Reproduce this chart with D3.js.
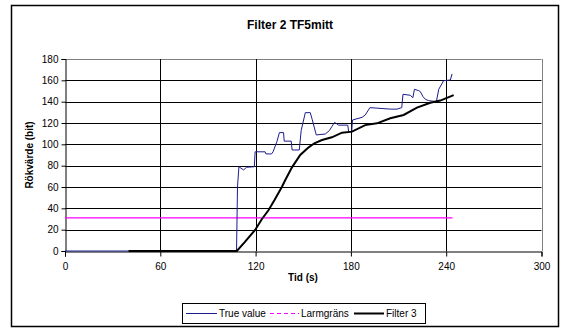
<!DOCTYPE html>
<html><head><meta charset="utf-8">
<script src="https://cdn.jsdelivr.net/npm/d3@7"></script>
<style>body{margin:0;background:#fff}svg{display:block;font-family:"Liberation Sans",Arial,sans-serif}</style>
</head><body><div id="chart"></div>
<script>
const title = "Filter 2 TF5mitt";
const xLabel = "Tid (s)";
const yLabel = "Rökvärde (bit)";
const xTicks = [0, 60, 120, 180, 240, 300];
const yTicks = [0, 20, 40, 60, 80, 100, 120, 140, 160, 180];
const seriesNames = ["True value", "Larmgräns", "Filter 3"];
const seriesColors = ["#1c1c8c", "#ff00ff", "#000000"];

// True value (time s, value)
const trueTime  = [0,108,108.6,109.5,112.4,114.3,119.2,119.7,126,126.5,130,131,133.4,135,137.6,138,142.4,143,147.5,148.7,151.3,154.4,155.6,158.2,163.9,166.4,168,169.7,172.3,178,178.6,180.5,181,187,189,192,205,209,212,212.8,217.4,219,220,222.7,223.7,225.4,226.9,229,233.8,235.3,238.4,242.6,243.7];
const trueValue = [0,0,60,79,76,78.5,79,93,93,91,91,93,102.5,111,111,103,103,94.7,94.7,113,129.7,129.7,123.5,108.8,109.7,112.8,116.6,120.6,118,118,111.9,111.9,122.8,125.3,127.5,134.4,133,133,134.4,146.9,146,143.7,151.6,150.3,149.4,144.7,142.2,141,140,151.6,159.7,160.3,166];

// Larmgräns
const alarmTime  = [0, 244];
const alarmValue = [31, 31];

// Filter 3
const filtTime  = [40,108.2,113,119.7,124,128.2,132,136.6,138.7,142.9,148.1,153.4,157,161.8,168,174.4,180.7,189,196.4,204.8,213.2,221.6,230,236.3,244.7];
const filtValue = [0,0,8,19.7,30,38.4,48,60.3,66.6,78.4,90,97.2,101,104,106.6,110.9,111.9,118,119.7,124.4,127.5,134.4,139,141,146.2];

const W = 561, H = 329;
const svg = d3.select("#chart").append("svg").attr("width", W).attr("height", H);

// outer chart border
svg.append("rect").attr("x", 11.5).attr("y", 5.5).attr("width", 547).attr("height", 321)
  .attr("fill", "#fff").attr("stroke", "#000").attr("stroke-width", 1.5);

const x = d3.scaleLinear().domain([0, 300]).range([65, 541.5]);
const y = d3.scaleLinear().domain([0, 180]).range([251, 59]);

const g = svg.append("g");
// horizontal gridlines
g.selectAll(".hg").data(yTicks.filter(v => v > 0)).enter().append("line")
  .attr("x1", x(0)).attr("x2", x(300))
  .attr("y1", d => Math.round(y(d)) + 0.5).attr("y2", d => Math.round(y(d)) + 0.5)
  .attr("stroke", d => d === 180 ? "#808080" : "#000").attr("stroke-width", 1);
// vertical gridlines
g.selectAll(".vg").data(xTicks.filter(v => v > 0)).enter().append("line")
  .attr("y1", y(0)).attr("y2", y(180))
  .attr("x1", d => Math.round(x(d)) + 0.5).attr("x2", d => Math.round(x(d)) + 0.5)
  .attr("stroke", d => d === 300 ? "#808080" : "#000").attr("stroke-width", 1);

// axes
const yAxis = d3.axisLeft(y).tickValues(yTicks).tickSize(4).tickPadding(3);
const xAxis = d3.axisBottom(x).tickValues(xTicks).tickSize(5).tickPadding(6);
const ya = svg.append("g").attr("transform", `translate(${Math.round(x(0)) + 0.5},0)`).call(yAxis);
const xa = svg.append("g").attr("transform", `translate(0,${Math.round(y(0)) + 0.5})`).call(xAxis);
[ya, xa].forEach(a => {
  a.select(".domain").attr("stroke", "#000");
  a.selectAll(".tick line").attr("stroke", "#000");
  a.selectAll("text").attr("font-family", "Liberation Sans, Arial, sans-serif").attr("font-size", 10).attr("fill", "#000");
});

// lines
const line = d3.line().x(d => x(d[0])).y(d => y(d[1]));
const alarm = alarmTime.map((t, i) => [t, alarmValue[i]]);
const truth = trueTime.map((t, i) => [t, trueValue[i]]);
const filt = filtTime.map((t, i) => [t, filtValue[i]]);
svg.append("path").datum(alarm).attr("d", line).attr("fill", "none").attr("stroke", seriesColors[1]).attr("stroke-width", 1.2);
svg.append("path").datum(truth).attr("d", line).attr("fill", "none").attr("stroke", seriesColors[0]).attr("stroke-width", 1);
svg.append("path").datum(filt).attr("d", line).attr("fill", "none").attr("stroke", seriesColors[2]).attr("stroke-width", 2);

// titles
svg.append("text").attr("x", 290).attr("y", 29).attr("text-anchor", "middle")
  .attr("font-size", 12).attr("font-weight", "bold").text(title);
svg.append("text").attr("x", 303).attr("y", 281).attr("text-anchor", "middle")
  .attr("font-size", 10).attr("font-weight", "bold").text(xLabel);
svg.append("text").attr("transform", "translate(33,155) rotate(-90)").attr("text-anchor", "middle")
  .attr("font-size", 10).attr("font-weight", "bold").text(yLabel);

// legend
const lg = svg.append("g");
lg.append("rect").attr("x", 182.5).attr("y", 303.5).attr("width", 243).attr("height", 20)
  .attr("fill", "#fff").attr("stroke", "#000").attr("stroke-width", 1);
const items = [
  {x1: 186, x2: 217, tx: 219, dash: null, w: 1},
  {x1: 270, x2: 299, tx: 301, dash: "4,3", w: 1.2},
  {x1: 354, x2: 384, tx: 386, dash: null, w: 2}
];
items.forEach((it, i) => {
  const l = lg.append("line").attr("x1", it.x1).attr("x2", it.x2).attr("y1", 313.5).attr("y2", 313.5)
    .attr("stroke", seriesColors[i]).attr("stroke-width", it.w);
  if (it.dash) l.attr("stroke-dasharray", it.dash);
  lg.append("text").attr("x", it.tx).attr("y", 317).attr("font-size", 10).text(seriesNames[i]);
});
</script></body></html>
